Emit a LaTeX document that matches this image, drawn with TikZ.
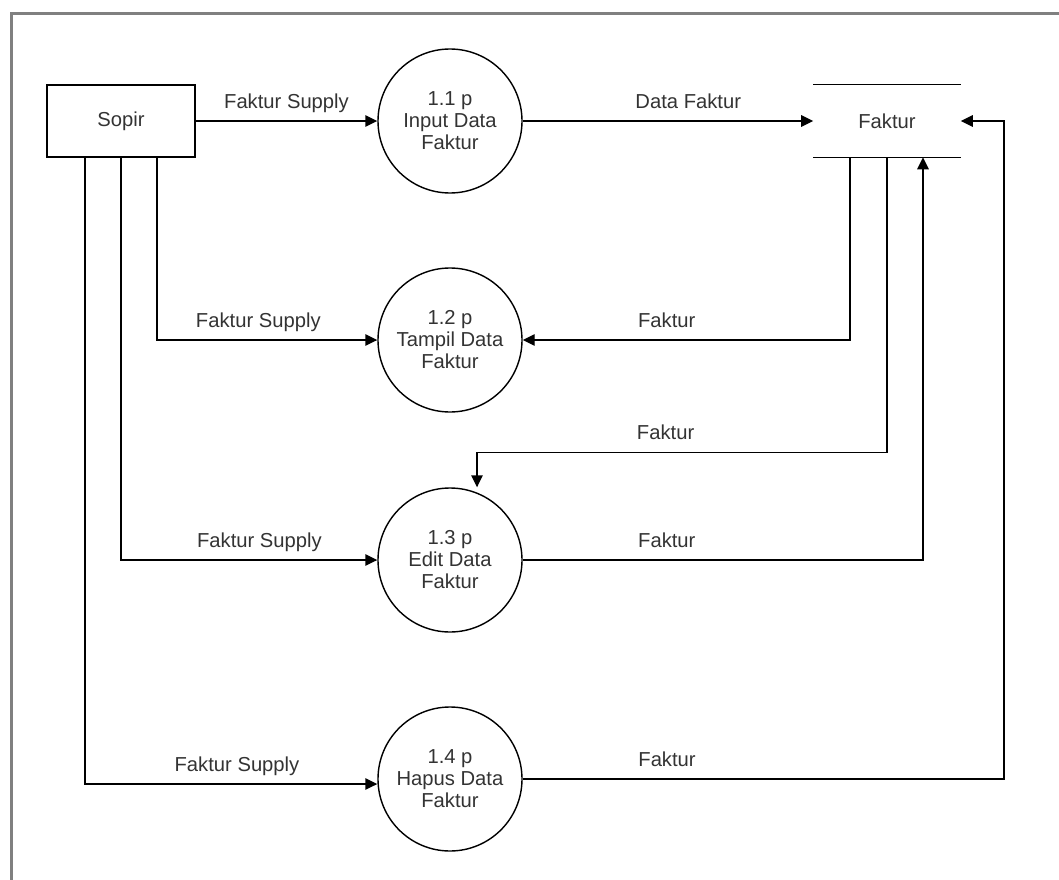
\documentclass[tikz,border=0pt]{standalone}
\usepackage{fontspec}
\setmainfont{Liberation Sans}
\usetikzlibrary{arrows.meta}

\tikzset{
	proses/.style={shape=circle,draw=black,line width=0.8pt,minimum size=28.8mm,inner sep=0pt,align=center,text=black!80},
	entitas/.style={shape=rectangle,draw=black,line width=0.8pt,minimum width=29.6mm,minimum height=14.4mm,text=black!80},
	simpan/.style={shape=rectangle,minimum width=29.4mm,minimum height=14.4mm,text=black!80},
	alir/.style={-{Triangle[length=2.4mm,width=2.3mm]},line width=0.8pt},
	ket/.style={text=black!80,above=1.2mm,text depth=0pt}
}

\begin{document}
\begin{tikzpicture}[x=0.2mm,y=-0.2mm,font=\fontsize{11.5}{12.5}\selectfont]
	\useasboundingbox (0,0) rectangle (1059,880);
	\draw[gray,line width=0.6mm] (11,880) -- (11,13) -- (1059,13);

	\node[entitas] (sopir) at (121,121) {Sopir};
	\node[proses] (p11) at (450,121) {1.1 p\\Input Data\\Faktur};
	\node[proses] (p12) at (450,340) {1.2 p\\Tampil Data\\Faktur};
	\node[proses] (p13) at (450,560) {1.3 p\\Edit Data\\Faktur};
	\node[proses] (p14) at (450,779) {1.4 p\\Hapus Data\\Faktur};
	\node[simpan] (faktur) at (887,121) {Faktur};
	\draw[line width=0.8pt] (faktur.north west) -- (faktur.north east);
	\draw[line width=0.8pt] (faktur.south west) -- (faktur.south east);

	\draw[alir] (sopir) -- node[ket]{Faktur Supply} (p11);
	\draw[alir] (p11) -- node[ket,pos=0.57]{Data Faktur} (faktur);
	\draw[alir] ([xshift=7.2mm]sopir.south) |- node[ket,pos=0.73]{Faktur Supply} (p12);
	\draw[alir] ([xshift=-7.4mm]faktur.south) |- node[ket,pos=0.78]{Faktur} (p12);
	\draw[alir] (faktur.south) |- node[ket,pos=0.77]{Faktur} ([xshift=5.4mm,yshift=7mm]p13.north) -- ([xshift=5.4mm]p13.north);
	\draw[alir] (sopir.south) |- node[ket,pos=0.77]{Faktur Supply} (p13);
	\draw[alir] (p13) -| node[ket,pos=0.18]{Faktur} ([xshift=7.2mm]faktur.south);
	\draw[alir] ([xshift=-7.2mm]sopir.south) |- node[ket,pos=0.76]{Faktur Supply} ([yshift=-1mm]p14.west);
	\draw[alir] (p14) -| node[ket,pos=0.15]{Faktur} ([xshift=8.6mm]faktur.east) -- (faktur.east);
\end{tikzpicture}
\end{document}
